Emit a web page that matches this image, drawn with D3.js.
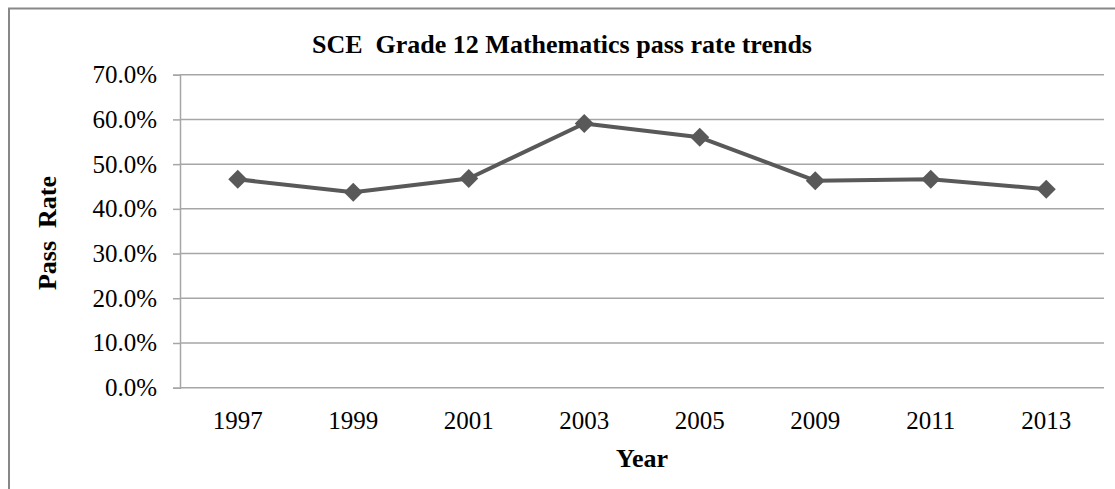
<!DOCTYPE html>
<html>
<head>
<meta charset="utf-8">
<script src="https://cdn.jsdelivr.net/npm/d3@7"></script>
<style>
  html, body { margin: 0; padding: 0; background: #fff; }
  svg { display: block; }
  text { font-family: "Liberation Serif", "Times New Roman", serif; fill: #000; }
</style>
</head>
<body>
<svg id="chart" width="1115" height="489"></svg>
<script>
// Grade 12 mathematics pass rates by exam year (fraction passed)
const years = ["1997", "1999", "2001", "2003", "2005", "2009", "2011", "2013"];
const passRates = [0.466, 0.437, 0.468, 0.591, 0.560, 0.463, 0.466, 0.444];
const yTicks = [0, 0.1, 0.2, 0.3, 0.4, 0.5, 0.6, 0.7];

const svg = d3.select("#chart");
const W = 1115, H = 489;
const margin = { left: 180, right: 11, top: 74.7, bottom: 101.3 };
const tickFont = 25, titleFont = 26;

// Chart frame
svg.append("rect")
  .attr("x", 9).attr("y", 8.5)
  .attr("width", W + 20).attr("height", H + 20)
  .attr("fill", "none").attr("stroke", "#888").attr("stroke-width", 2);

const x = d3.scaleBand().domain(years).range([margin.left, W - margin.right]);
const y = d3.scaleLinear().domain([0, 0.7]).range([H - margin.bottom, margin.top]);

// Horizontal gridlines
svg.append("g").selectAll("line").data(yTicks).join("line")
  .attr("x1", margin.left).attr("x2", W - margin.right)
  .attr("y1", d => y(d)).attr("y2", d => y(d))
  .attr("stroke", "#a6a6a6").attr("stroke-width", 1.5);

// Y axis
const yAxis = svg.append("g")
  .attr("transform", `translate(${margin.left},0)`)
  .call(d3.axisLeft(y).tickValues(yTicks).tickFormat(d3.format(".1%")).tickSize(7).tickPadding(16));
yAxis.select(".domain").attr("stroke", "#a6a6a6").attr("stroke-width", 1.5);
yAxis.selectAll(".tick line").attr("stroke", "#a6a6a6").attr("stroke-width", 1.5);
yAxis.selectAll("text").attr("font-size", tickFont).attr("font-family", "Liberation Serif").attr("fill", "#000");

// X axis
const xAxis = svg.append("g")
  .attr("transform", `translate(0,${H - margin.bottom})`)
  .call(d3.axisBottom(x).tickSize(0).tickPadding(24));
xAxis.select(".domain").remove();
xAxis.selectAll("text").attr("font-size", tickFont).attr("font-family", "Liberation Serif").attr("fill", "#000");

// Series line
const line = d3.line()
  .x((d, i) => x(years[i]) + x.bandwidth() / 2)
  .y(d => y(d));
svg.append("path")
  .datum(passRates)
  .attr("d", line)
  .attr("fill", "none")
  .attr("stroke", "#595959")
  .attr("stroke-width", 4)
  .attr("stroke-linejoin", "round");

// Diamond markers
const diamond = d3.symbol().type(d3.symbolDiamond2).size(230);
svg.append("g").selectAll("path").data(passRates).join("path")
  .attr("d", diamond)
  .attr("transform", (d, i) => `translate(${x(years[i]) + x.bandwidth() / 2},${y(d)})`)
  .attr("fill", "#595959");

// Title and axis titles
svg.append("text")
  .attr("x", 562).attr("y", 53)
  .attr("text-anchor", "middle")
  .attr("font-size", titleFont).attr("font-weight", "bold")
  .attr("xml:space", "preserve")
  .text("SCE  Grade 12 Mathematics pass rate trends");

svg.append("text")
  .attr("transform", "translate(56,233) rotate(-90)")
  .attr("text-anchor", "middle")
  .attr("font-size", titleFont).attr("font-weight", "bold")
  .attr("xml:space", "preserve")
  .text("Pass  Rate");

svg.append("text")
  .attr("x", 642).attr("y", 467)
  .attr("text-anchor", "middle")
  .attr("font-size", titleFont).attr("font-weight", "bold")
  .text("Year");
</script>
</body>
</html>
